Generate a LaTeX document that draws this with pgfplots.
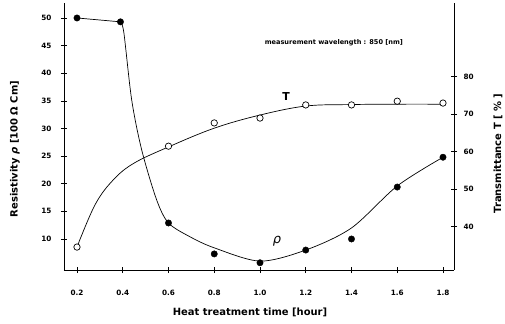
\documentclass[border=0pt]{standalone}
\usepackage{fontspec}
\setmainfont{DejaVu Sans}
\usepackage{pgfplots}
\pgfplotsset{compat=1.18}
\begin{document}
\begin{tikzpicture}
\useasboundingbox (0,0) rectangle (505bp,324bp);
\pgfplotsset{
  common/.style={
    at={(64bp,54bp)}, anchor=south west,
    scale only axis, width=390bp, height=267bp,
    xmin=0.1432, xmax=1.8481,
    axis line style={-, line width=0.8pt},
    tick align=center, major tick length=6bp,
    tick style={line width=0.6pt, black},
    /pgf/number format/assume math mode=true,
    tick label style={font=\bfseries\fontsize{7.3}{8}\selectfont},
    label style={font=\bfseries\fontsize{10}{12}\selectfont},
  }
}
\begin{axis}[common,
  axis x line*=bottom, axis y line*=left,
  ymin=4.389, ymax=52.71,
  xtick={0.2,0.4,0.6,0.8,1.0,1.2,1.4,1.6,1.8},
  xticklabels={0.2,0.4,0.6,0.8,1.0,1.2,1.4,1.6,1.8},
  xticklabel style={yshift=-14bp},
  ytick={10,15,20,25,30,35,40,45,50},
  yticklabel style={xshift=-6bp},
  xlabel={Heat treatment time [hour]},
  xlabel style={at={(axis description cs:0.477,-0.157)}, anchor=center},
  ylabel={Resistivity {\itshape ρ} [100 Ω Cm]},
  ylabel style={at={(axis description cs:-0.126,0.453)}, anchor=center},
]
% resistivity fitted curve
\addplot[black, line width=0.7pt] coordinates {(0.2,50) (0.39,49.3)};
\addplot[black, line width=0.7pt, smooth, tension=0.5] coordinates {
 (0.39,49.3) (0.405,47.3) (0.439,35.2) (0.483,26.1) (0.548,17.1) (0.6,12.9)
 (0.694,10.4) (0.8,8.4) (1.0,6.0) (1.2,8.0) (1.4,12.0) (1.6,19.6) (1.8,24.8)};
% resistivity data
\addplot[only marks, mark=*, mark size=3.2bp, black] coordinates {
 (0.2,50.0) (0.39,49.3) (0.6,12.9) (0.8,7.3) (1.0,5.7) (1.2,8.0) (1.4,10.0) (1.6,19.4) (1.8,24.8)};
\node[font=\bfseries\fontsize{6.6}{8}\selectfont] at (axis cs:1.323,45.5) {measurement wavelength : 850 [nm]};
\node[font=\itshape\fontsize{13}{14}\selectfont] at (axis cs:1.074,9.64) {ρ};
\node[font=\bfseries\fontsize{11}{12}\selectfont] at (axis cs:1.114,35.7) {T};
\end{axis}
\begin{axis}[common,
  axis x line=none, axis y line*=right,
  ymin=28.48, ymax=99.68,
  ytick={40,50,60,70,80},
  yticklabel style={xshift=3bp},
  ylabel={Transmittance T [ \% ]},
  ylabel style={at={(axis description cs:1.113,0.436)}, anchor=center},
]
\addplot[black, line width=0.7pt, smooth, tension=0.6] coordinates {
 (0.2,34.6) (0.28,46.0) (0.36,52.6) (0.45,57.0) (0.6,61.3)
 (0.8,66.3) (1.0,69.8) (1.2,72.2) (1.4,72.6) (1.6,72.7) (1.8,72.7)};
\addplot[only marks, mark=*, mark size=3.2bp, black, fill=white, line width=0.7pt] coordinates {
 (0.2,34.6) (0.6,61.5) (0.8,67.7) (1.0,69.0) (1.2,72.5) (1.4,72.5) (1.6,73.5) (1.8,73.0)};
\end{axis}
\end{tikzpicture}
\end{document}
